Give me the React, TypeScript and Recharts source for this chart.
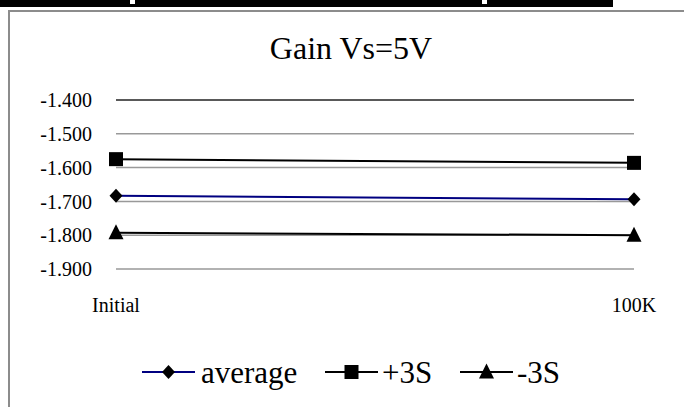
import {
  LineChart,
  Line,
  XAxis,
  YAxis,
  CartesianGrid,
  ReferenceLine,
  Legend,
} from "recharts"

const categories = ["Initial", "100K"]
const average = [-1.683, -1.694]
const plus3S = [-1.575, -1.586]
const minus3S = [-1.793, -1.8]
const yTicks = [-1.4, -1.5, -1.6, -1.7, -1.8, -1.9]

const data = categories.map((name, i) => ({
  name,
  average: average[i],
  plus3S: plus3S[i],
  minus3S: minus3S[i],
}))

const FONT = "'Liberation Serif', 'Times New Roman', serif"

function diamondPath(cx: number, cy: number) {
  return `M${cx} ${cy - 7} L${cx + 6.5} ${cy} L${cx} ${cy + 7} L${cx - 6.5} ${cy} Z`
}
function squarePath(cx: number, cy: number) {
  return `M${cx - 7} ${cy - 7} H${cx + 7} V${cy + 7} H${cx - 7} Z`
}
function trianglePath(cx: number, cy: number) {
  return `M${cx} ${cy - 8.5} L${cx + 7.5} ${cy + 6.5} L${cx - 7.5} ${cy + 6.5} Z`
}

const shapes: Record<string, (cx: number, cy: number) => string> = {
  diamond: diamondPath,
  square: squarePath,
  triangle: trianglePath,
}

const makeDot = (shape: string) => (props: any) => {
  const { cx, cy, index } = props
  if (cx == null || cy == null) return <g key={index} />
  return <path key={index} d={shapes[shape](cx, cy)} fill="#000" />
}

const series = [
  { key: "average", name: "average", color: "#000080", shape: "diamond" },
  { key: "plus3S", name: "+3S", color: "#000", shape: "square" },
  { key: "minus3S", name: "-3S", color: "#000", shape: "triangle" },
]

// legend slots, page x of the line start / text start
const legendSlots = [
  { lineX: 142, lineW: 53, textX: 201 },
  { lineX: 325, lineW: 53, textX: 382 },
  { lineX: 460, lineW: 53, textX: 517 },
]

const textStyle = { fontFamily: FONT }

function renderLegend() {
  const y = 22
  return (
    <svg width={684} height={50} style={{ display: "block" }}>
      {series.map((s, i) => {
        const slot = legendSlots[i]
        const cx = slot.lineX + slot.lineW / 2
        return (
          <g key={s.key}>
            <line
              x1={slot.lineX}
              x2={slot.lineX + slot.lineW}
              y1={y}
              y2={y}
              stroke={s.color}
              strokeWidth={2}
            />
            <path d={shapes[s.shape](cx, y)} fill="#000" />
            <text
              x={slot.textX}
              y={y + 11}
              fontSize={31}
              style={textStyle}
              fill="#000"
            >
              {s.name}
            </text>
          </g>
        )
      })}
    </svg>
  )
}

function YTick(props: any) {
  const { x, y, payload } = props
  return (
    <text
      x={x}
      y={y}
      dy="0.355em"
      textAnchor="end"
      fontSize={20}
      style={textStyle}
      fill="#000"
    >
      {Number(payload.value).toFixed(3)}
    </text>
  )
}

function XTick(props: any) {
  const { x, y, payload } = props
  return (
    <text
      x={x}
      y={y}
      dy="0.71em"
      textAnchor="middle"
      fontSize={20}
      style={textStyle}
      fill="#000"
    >
      {payload.value}
    </text>
  )
}

export default function App() {
  return (
    <div
      style={{
        position: "fixed",
        left: 0,
        top: 0,
        width: 684,
        height: 407,
        overflow: "hidden",
        background: "#fff",
        fontFamily: FONT,
      }}
    >
      {/* bottom edge of the table above */}
      <div style={{ position: "absolute", left: 0, top: 0, width: 613, height: 7, background: "#000" }} />
      <div style={{ position: "absolute", left: 130, top: 0, width: 5, height: 4, background: "#fff" }} />
      <div style={{ position: "absolute", left: 482, top: 0, width: 5, height: 4, background: "#fff" }} />

      {/* chart frame */}
      <div
        style={{
          position: "absolute",
          left: 8,
          top: 10,
          width: 700,
          height: 420,
          border: "2px solid #8c8c8c",
          boxSizing: "border-box",
        }}
      />

      <div
        style={{
          position: "absolute",
          left: 351,
          top: 32,
          transform: "translateX(-50%)",
          fontSize: 32,
          lineHeight: "32px",
          whiteSpace: "nowrap",
          color: "#000",
        }}
      >
        Gain Vs=5V
      </div>

      <div style={{ position: "absolute", left: 0, top: 0 }}>
        <LineChart
          width={684}
          height={407}
          data={data}
          margin={{ top: 100, right: 50, left: 16, bottom: 98 }}
          style={{ fontFamily: FONT }}
        >
          <CartesianGrid vertical={false} stroke="#999" strokeWidth={1.5} />
          <ReferenceLine y={-1.4} stroke="#000" strokeWidth={1} />
          <XAxis
            dataKey="name"
            axisLine={false}
            tickLine={false}
            tickSize={0}
            tickMargin={29}
            height={40}
            tick={<XTick />}
          />
          <YAxis
            domain={[-1.9, -1.4]}
            ticks={yTicks}
            width={100}
            axisLine={false}
            tickLine={false}
            tickSize={0}
            tickMargin={24}
            tick={<YTick />}
          />
          <Legend
            layout="horizontal"
            verticalAlign="middle"
            align="center"
            content={renderLegend}
            wrapperStyle={{ left: 0, top: 350, width: 684, height: 50 }}
          />
          {series.map((s) => (
            <Line
              key={s.key}
              type="linear"
              dataKey={s.key}
              name={s.name}
              stroke={s.color}
              strokeWidth={2}
              dot={makeDot(s.shape)}
              activeDot={false}
              isAnimationActive={false}
            />
          ))}
        </LineChart>
      </div>
    </div>
  )
}
